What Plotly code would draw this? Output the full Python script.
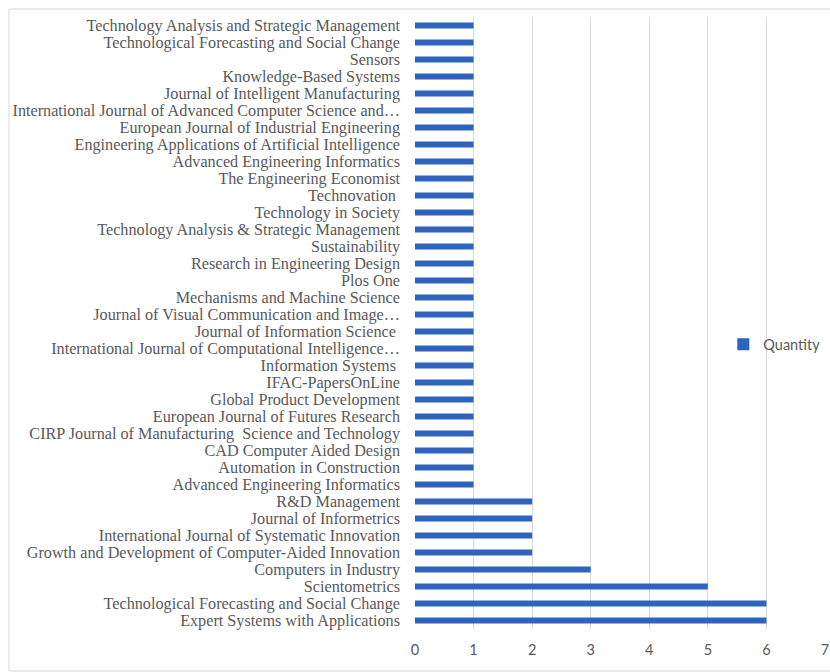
import plotly.graph_objects as go

journals = [
    "Technology Analysis and Strategic Management",
    "Technological Forecasting and Social Change",
    "Sensors",
    "Knowledge-Based Systems",
    "Journal of Intelligent Manufacturing",
    "International Journal of Advanced Computer Science and…",
    "European Journal of Industrial Engineering",
    "Engineering Applications of Artificial Intelligence",
    "Advanced Engineering Informatics",
    "The Engineering Economist",
    "Technovation ",
    "Technology in Society",
    "Technology Analysis & Strategic Management",
    "Sustainability",
    "Research in Engineering Design",
    "Plos One",
    "Mechanisms and Machine Science",
    "Journal of Visual Communication and Image…",
    "Journal of Information Science ",
    "International Journal of Computational Intelligence…",
    "Information Systems ",
    "IFAC-PapersOnLine",
    "Global Product Development",
    "European Journal of Futures Research",
    "CIRP Journal of Manufacturing  Science and Technology",
    "CAD Computer Aided Design",
    "Automation in Construction",
    "Advanced Engineering Informatics",
    "R&D Management",
    "Journal of Informetrics",
    "International Journal of Systematic Innovation",
    "Growth and Development of Computer-Aided Innovation",
    "Computers in Industry",
    "Scientometrics",
    "Technological Forecasting and Social Change",
    "Expert Systems with Applications",
]
quantity = [1]*28 + [2, 2, 2, 2, 3, 5, 6, 6]

# bottom-to-top order for plotly
labels = journals[::-1]
values = quantity[::-1]
pos = list(range(len(labels)))

x_ticks = [0, 1, 2, 3, 4, 5, 6, 7]

fig = go.Figure()
fig.add_trace(go.Bar(
    x=values, y=pos, orientation="h", name="Quantity",
    marker=dict(color="#2E64BE", line=dict(width=0)),
    width=0.36,
))

fig.update_layout(
    width=830, height=672,
    margin=dict(l=415, r=5, t=17, b=43, autoexpand=False),
    paper_bgcolor="white", plot_bgcolor="white",
    showlegend=True,
    legend=dict(x=0.752, y=0.465, xanchor="left", yanchor="middle",
                font=dict(family="Lato, Liberation Sans, sans-serif", size=14.5, color="#595959"),
                bgcolor="rgba(0,0,0,0)", itemwidth=30),
    bargap=0.6,
)
fig.update_xaxes(
    range=[0, 7], tickvals=x_ticks, showgrid=True, gridcolor="#D9D9D9", gridwidth=1,
    zeroline=False, showline=False, ticks="", automargin=False,
    ticklabelstandoff=10,
    tickfont=dict(family="Lato, Liberation Sans, sans-serif", size=14.5, color="#595959"),
)
fig.update_yaxes(
    range=[-0.5, len(labels)-0.5], tickvals=pos, ticktext=labels,
    showgrid=False, zeroline=False, showline=False, ticks="", automargin=False,
    ticklabelstandoff=14,
    tickfont=dict(family="Liberation Serif, Times New Roman, serif", size=16.2, color="#595959"),
)
fig.add_shape(type="rect", xref="paper", yref="paper",
              x0=(9-415)/410, x1=1.05, y0=(629-671)/612, y1=(629-9)/612,
              line=dict(color="#D9D9D9", width=1), fillcolor="rgba(0,0,0,0)", layer="below")

fig.write_html("out.html", config={"displayModeBar": False},
               post_script="document.body.style.margin='0px';document.body.style.overflow='hidden';")
